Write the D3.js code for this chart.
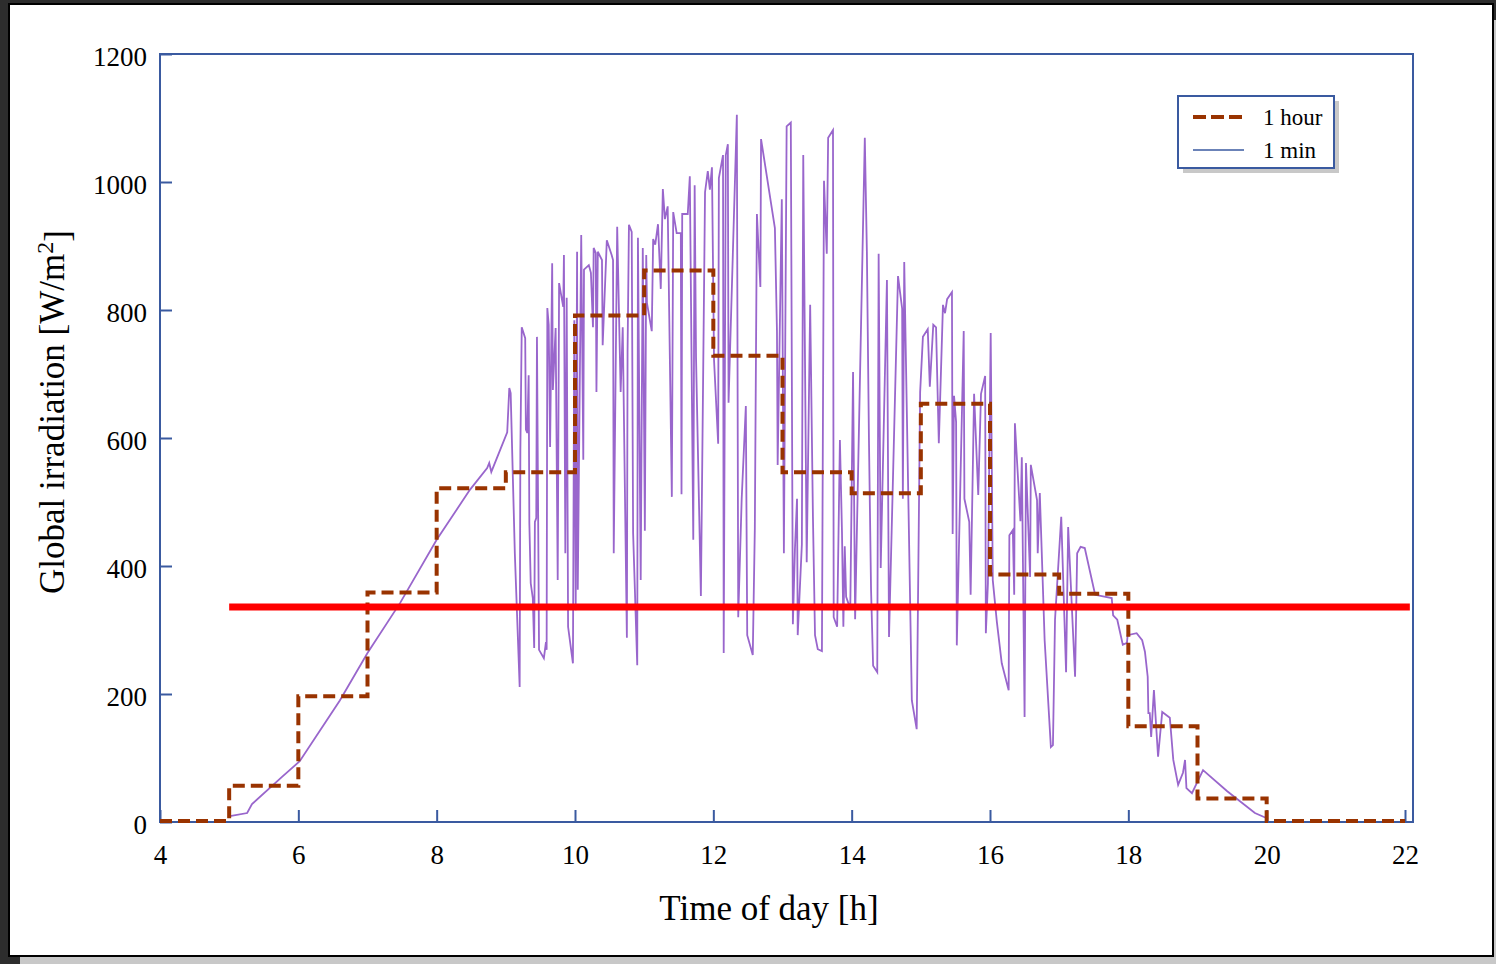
<!DOCTYPE html>
<html>
<head>
    <script type="text/javascript" src="https://d3js.org/d3.v7.min.js"></script>
    <style>
        body {
            margin: 0;
            background: #2d2d2d;
            font-family: "Liberation Serif", "Times New Roman", serif;
        }
        svg { display: block; }
    </style>
</head>
<body>
    <div id="svgcontainer"></div>
    <script>
        // hourly averages (step line)
        var hourStart = [4, 5, 6, 7, 8, 9, 10, 11, 12, 13, 14, 15, 16, 17, 18, 19, 20, 21, 22];
        var hourValue = [0, 55, 195, 357, 520, 545, 790, 860, 727, 545, 512, 652, 385, 355, 148, 35, 0, 0, 0];

        // 1 minute samples
        var minTime = [5.01, 5.26, 5.33, 5.76, 6.02, 6.60, 7.00, 7.47, 8.00, 8.48, 8.73, 8.76, 8.79,
            9.02, 9.05, 9.07, 9.13, 9.20, 9.21, 9.23, 9.28, 9.29, 9.31, 9.33, 9.34, 9.36, 9.39, 9.41, 9.42,
            9.44, 9.45, 9.48, 9.55, 9.58, 9.59, 9.60, 9.62, 9.64, 9.67, 9.68, 9.72, 9.75, 9.77, 9.83, 9.84,
            9.86, 9.88, 9.90, 9.97, 9.99, 10.01, 10.03, 10.04, 10.09, 10.12, 10.13, 10.20, 10.23, 10.26,
            10.27, 10.30, 10.31, 10.33, 10.39, 10.40, 10.46, 10.53, 10.55, 10.56, 10.61, 10.66, 10.69,
            10.75, 10.76, 10.78, 10.82, 10.84, 10.90, 10.91, 10.95, 10.98, 11.01, 11.03, 11.04, 11.11,
            11.13, 11.16, 11.20, 11.24, 11.27, 11.30, 11.34, 11.40, 11.42, 11.47, 11.53, 11.54, 11.55,
            11.63, 11.66, 11.71, 11.73, 11.75, 11.82, 11.88, 11.92, 11.95, 11.98, 12.01, 12.07, 12.08,
            12.14, 12.15, 12.18, 12.21, 12.22, 12.34, 12.36, 12.41, 12.47, 12.49, 12.57, 12.60, 12.63,
            12.68, 12.69, 12.89, 12.92, 12.93, 12.99, 13.02, 13.06, 13.12, 13.15, 13.18, 13.21, 13.22,
            13.28, 13.30, 13.35, 13.40, 13.44, 13.47, 13.51, 13.57, 13.60, 13.64, 13.66, 13.73, 13.74,
            13.79, 13.83, 13.86, 13.88, 13.90, 13.92, 13.98, 14.02, 14.05, 14.19, 14.22, 14.25, 14.28,
            14.31, 14.37, 14.39, 14.42, 14.51, 14.54, 14.67, 14.73, 14.74, 14.76, 14.87, 14.94, 14.99,
            15.03, 15.10, 15.13, 15.18, 15.22, 15.26, 15.32, 15.35, 15.38, 15.45, 15.46, 15.48, 15.51,
            15.52, 15.62, 15.63, 15.70, 15.72, 15.77, 15.83, 15.87, 15.93, 15.94, 15.97, 16.01, 16.04,
            16.10, 16.17, 16.27, 16.28, 16.33, 16.35, 16.36, 16.44, 16.46, 16.50, 16.52, 16.58, 16.59,
            16.68, 16.69, 16.72, 16.79, 16.88, 16.91, 16.94, 17.03, 17.10, 17.13, 17.23, 17.26, 17.31,
            17.37, 17.52, 17.76, 17.78, 17.84, 17.92, 17.98, 17.99, 18.12, 18.20, 18.24, 18.28, 18.29,
            18.31, 18.33, 18.37, 18.43, 18.49, 18.60, 18.65, 18.72, 18.79, 18.82, 18.84, 18.92, 19.08,
            19.43, 19.83, 20.02];
        var minValue = [9, 14, 28, 70, 95, 190, 264, 342, 441, 519, 553, 561, 547,
            609, 678, 670, 420, 211, 580, 773, 756, 613, 608, 698, 467, 373, 350, 272, 469,
            475, 758, 269, 256, 281, 269, 803, 777, 586, 873, 675, 772, 378, 842, 805, 886,
            420, 819, 305, 248, 784, 331, 891, 363, 917, 566, 863, 870, 858, 773,
            897, 889, 672, 891, 878, 745, 909, 886, 878, 420, 930, 672, 773,
            288, 734, 933, 922, 452, 245, 913, 378, 897, 455, 886, 811, 767,
            911, 902, 934, 833, 989, 942, 962, 508, 953, 920, 920, 512, 950,
            950, 1009, 441, 995, 725, 353, 984, 1017, 988, 1023, 722, 591, 1006,
            1042, 264, 1042, 1059, 655, 1105, 320, 505, 650, 292, 261, 459, 950,
            836, 1067, 928, 767, 558, 973, 420, 1087, 1093, 309, 427, 505, 292,
            434, 1042, 406, 808, 477, 292, 270, 267, 1002, 888, 1069, 1081, 320,
            305, 597, 453, 305, 431, 352, 333, 703, 317, 1069, 891, 597, 364,
            244, 234, 888, 397, 847, 289, 853, 802, 505, 875, 190, 145, 672,
            758, 770, 680, 777, 773, 592, 808, 795, 817, 828, 450, 666, 625,
            276, 767, 505, 469, 355, 669, 511, 669, 697, 295, 373, 764, 378,
            312, 248, 206, 448, 456, 355, 623, 470, 570, 164, 561, 383, 558,
            503, 420, 514, 284, 117, 120, 316, 477, 234, 461, 227, 420, 430,
            428, 355, 350, 323, 316, 277, 280, 292, 295, 284, 266, 227, 170,
            170, 133, 206, 102, 172, 163, 97, 58, 77, 97, 53, 45, 81,
            48, 14, 5];

        // red reference level
        var refLevel = 336;
        var refSpan = [5, 22.07];

        var xTicks = [4, 6, 8, 10, 12, 14, 16, 18, 20, 22];
        var yTicks = [0, 200, 400, 600, 800, 1000, 1200];
        var legendLabels = ["1 hour", "1 min"];

        var width = 1496;
        var height = 964;
        var axisColor = "#3a5aa0";

        var svg = d3.select("#svgcontainer")
            .append("svg")
            .attr("width", width)
            .attr("height", height);

        // page with shadow
        svg.append("rect").attr("x", 20).attr("y", 20).attr("width", width - 20).attr("height", height - 20).attr("fill", "#c8c8c8");
        svg.append("rect").attr("x", 9).attr("y", 4).attr("width", 1484).attr("height", 952)
            .attr("fill", "white").attr("stroke", "black").attr("stroke-width", 2);

        var x = d3.scaleLinear().domain([4, 22]).range([160, 1405]);
        var y = d3.scaleLinear().domain([0, 1200]).range([822, 54]);

        // plot frame
        svg.append("rect")
            .attr("x", x(4)).attr("y", y(1200))
            .attr("width", x(22) + 8 - x(4)).attr("height", y(0) - y(1200))
            .attr("fill", "none").attr("stroke", axisColor).attr("stroke-width", 2);

        var xAxis = svg.append("g")
            .attr("transform", "translate(0," + y(0) + ")")
            .call(d3.axisBottom(x).tickValues(xTicks).tickFormat(d3.format("d"))
                .tickSizeInner(-12).tickSizeOuter(0).tickPadding(23));
        var yAxis = svg.append("g")
            .attr("transform", "translate(" + x(4) + ",0)")
            .call(d3.axisLeft(y).tickValues(yTicks).tickFormat(d3.format("d"))
                .tickSizeInner(-12).tickSizeOuter(0).tickPadding(13));

        [xAxis, yAxis].forEach(function (g) {
            g.select(".domain").remove();
            g.selectAll(".tick line").attr("stroke", axisColor).attr("stroke-width", 2);
            g.selectAll(".tick text")
                .attr("fill", "black")
                .style("font-family", "'Liberation Serif', serif")
                .style("font-size", "27px");
        });
        yAxis.selectAll(".tick text").attr("dy", "0.42em");

        // 1 min line
        var minData = minTime.map(function (t, i) { return [t, minValue[i]]; });
        svg.append("path")
            .datum(minData)
            .attr("fill", "none")
            .attr("stroke", "#9966cc")
            .attr("stroke-width", 1.8)
            .attr("d", d3.line().x(function (d) { return x(d[0]); }).y(function (d) { return y(d[1]); }));

        // hourly step line
        var hourData = hourStart.map(function (t, i) { return [t, hourValue[i]]; });
        svg.append("path")
            .datum(hourData)
            .attr("fill", "none")
            .attr("stroke", "#993300")
            .attr("stroke-width", 4)
            .attr("stroke-dasharray", "12,6")
            .attr("d", d3.line().curve(d3.curveStepAfter).x(function (d) { return x(d[0]); }).y(function (d) { return y(d[1]) - 1; }));

        // red level
        svg.append("line")
            .attr("x1", x(refSpan[0])).attr("x2", x(refSpan[1]))
            .attr("y1", y(refLevel)).attr("y2", y(refLevel))
            .attr("stroke", "#ff0000").attr("stroke-width", 7);

        // legend
        var lg = svg.append("g").attr("transform", "translate(1178,96)");
        lg.append("rect").attr("x", 5).attr("y", 5).attr("width", 156).attr("height", 72).attr("fill", "#c8c8c8");
        lg.append("rect").attr("width", 156).attr("height", 72).attr("fill", "white")
            .attr("stroke", axisColor).attr("stroke-width", 2);
        lg.append("line").attr("x1", 15).attr("x2", 66).attr("y1", 21).attr("y2", 21)
            .attr("stroke", "#993300").attr("stroke-width", 4).attr("stroke-dasharray", "13,5");
        lg.append("line").attr("x1", 15).attr("x2", 66).attr("y1", 54).attr("y2", 54)
            .attr("stroke", axisColor).attr("stroke-width", 1.5);
        lg.selectAll("text.lab").data(legendLabels).enter().append("text")
            .attr("class", "lab")
            .attr("x", 85).attr("y", function (d, i) { return 29 + i * 33; })
            .style("font-size", "23px")
            .text(function (d) { return d; });

        // axis titles
        svg.append("text")
            .attr("x", 769).attr("y", 920)
            .attr("text-anchor", "middle")
            .style("font-size", "35px")
            .text("Time of day [h]");

        var yt = svg.append("text")
            .attr("transform", "translate(64,412) rotate(-90)")
            .attr("text-anchor", "middle")
            .style("font-size", "35px");
        yt.append("tspan").text("Global irradiation [W/m");
        yt.append("tspan").attr("dy", "-0.45em").style("font-size", "24px").text("2");
        yt.append("tspan").attr("dy", "0.45em").text("]");
    </script>
</body>
</html>
